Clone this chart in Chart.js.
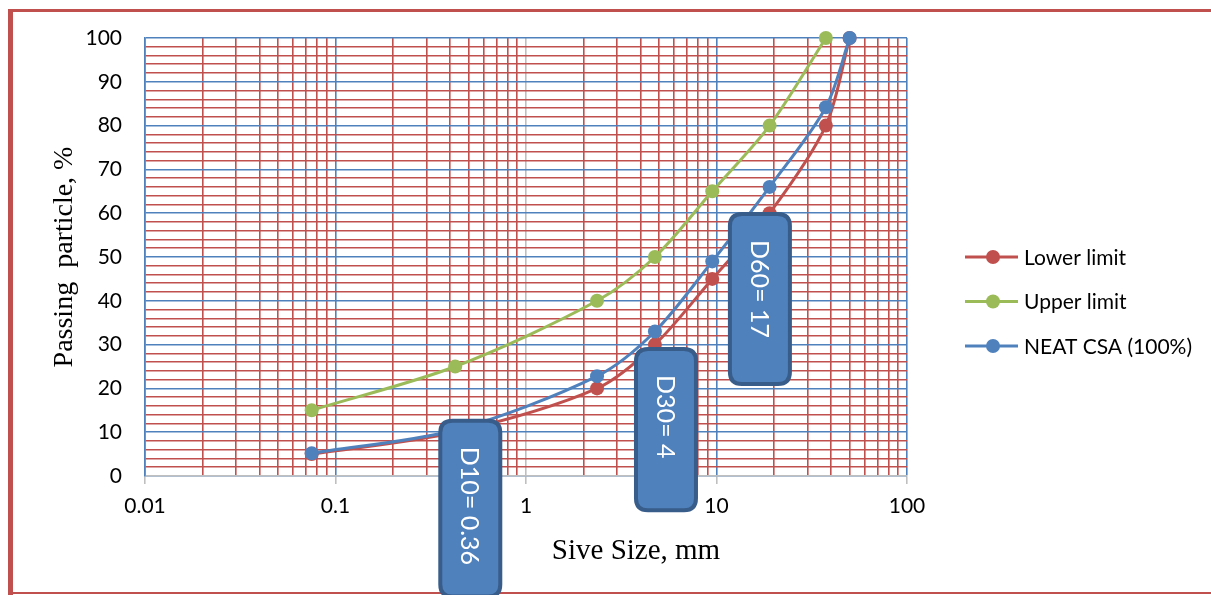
<!DOCTYPE html>
<html>
<head>
<meta charset="utf-8">
<script src="https://cdn.jsdelivr.net/npm/chart.js@4.4.1/dist/chart.umd.min.js"></script>
<style>
  html, body { margin: 0; padding: 0; background: #fff; }
  #wrap { width: 1211px; height: 595px; position: relative; }
</style>
</head>
<body>
<div id="wrap"><canvas id="grading-chart"></canvas></div>
<script>
// sieve sizes (mm) and % passing
const sieveSizes = [0.075, 0.425, 2.36, 4.75, 9.5, 19, 37.5, 50];
const lowerLimit = [5, 10, 20, 30, 45, 60, 80, 100];
const upperLimit = [15, 25, 40, 50, 65, 80, 100];
const neatCsa    = [5.2, 10.5, 22.8, 33, 49, 66, 84.2, 100];

const seriesNames = ['Lower limit', 'Upper limit', 'NEAT CSA (100%)'];
const xDecades = [0.01, 0.1, 1, 10, 100];
const yMajor = [0, 10, 20, 30, 40, 50, 60, 70, 80, 90, 100];

// D-value callouts: label, centre size (mm), top and bottom (% passing)
const dLabels = ['D10= 0.36', 'D30= 4', 'D60= 17'];
const dCenter = [0.51, 5.43, 16.9];
const dTop    = [12.6, 29, 59.8];
const dBottom = [-27.5, -7.8, 21];

const RED = '#C0504D', GREEN = '#9BBB59', BLUE = '#4F81BD', GREY = '#BFBFBF';
const FONT = 'Lato, "Open Sans", sans-serif';
const SERIF = '"Liberation Serif", "Times New Roman", serif';

const pts = (ys) => ys.map((y, i) => ({ x: sieveSizes[i], y }));

function lineSet(label, data, color, order) {
  return {
    label, data, order,
    borderColor: color, backgroundColor: color,
    borderWidth: 3, pointRadius: 7, pointHoverRadius: 7,
    pointBorderWidth: 0, tension: 0.3, clip: false
  };
}

const isDecade = v => xDecades.some(d => Math.abs(d - v) < d * 1e-6);

function roundRect(c, x, y, w, h, r) {
  c.beginPath();
  c.moveTo(x + r, y);
  c.lineTo(x + w - r, y);
  c.quadraticCurveTo(x + w, y, x + w, y + r);
  c.lineTo(x + w, y + h - r);
  c.quadraticCurveTo(x + w, y + h, x + w - r, y + h);
  c.lineTo(x + r, y + h);
  c.quadraticCurveTo(x, y + h, x, y + h - r);
  c.lineTo(x, y + r);
  c.quadraticCurveTo(x, y, x + r, y);
  c.closePath();
}

const decorations = {
  id: 'decorations',
  afterDraw(chart) {
    const c = chart.ctx;
    const { left, right, top, bottom } = chart.chartArea;
    const xs = chart.scales.x, ys = chart.scales.y;
    c.save();

    // outer frame
    c.fillStyle = RED;
    c.fillRect(8, 9, 5, 586);
    c.fillRect(8, 9, chart.width - 8, 3);
    c.fillRect(8, chart.height - 3, chart.width - 8, 2);

    // axis titles
    c.fillStyle = '#000';
    c.font = '29px ' + SERIF;
    c.textAlign = 'center';
    c.textBaseline = 'middle';
    c.fillText('Sive Size, mm', 636, 551);
    c.save();
    c.translate(65, (top + bottom) / 2);
    c.rotate(-Math.PI / 2);
    c.font = '28px ' + SERIF;
    c.fillText('Passing  particle, %', 0, 0);
    c.restore();

    // legend
    const colors = [RED, GREEN, BLUE];
    const midY = (top + bottom) / 2;
    c.font = '21px ' + FONT;
    c.textAlign = 'left';
    seriesNames.forEach((name, i) => {
      const y = midY + i * 44.5;
      c.strokeStyle = colors[i];
      c.lineWidth = 3;
      c.beginPath();
      c.moveTo(right + 58, y);
      c.lineTo(right + 111, y);
      c.stroke();
      c.fillStyle = colors[i];
      c.beginPath();
      c.arc(right + 86, y, 7, 0, Math.PI * 2);
      c.fill();
      c.fillStyle = '#000';
      c.fillText(name, right + 117, y + 1);
    });

    // D-value callouts
    dLabels.forEach((txt, i) => {
      const cx = xs.getPixelForValue(dCenter[i]);
      const y0 = ys.getPixelForValue(dTop[i]);
      const y1 = ys.getPixelForValue(dBottom[i]);
      const w = 60;
      roundRect(c, cx - w / 2, y0, w, y1 - y0, 12);
      c.fillStyle = BLUE;
      c.fill();
      c.lineWidth = 4;
      c.strokeStyle = '#385D8A';
      c.stroke();
      c.save();
      c.translate(cx, y0 + 26);
      c.rotate(Math.PI / 2);
      c.fillStyle = '#fff';
      c.font = '25px ' + FONT;
      c.textAlign = 'left';
      c.textBaseline = 'middle';
      c.fillText(txt, 0, 1);
      c.restore();
    });
    c.restore();
  }
};

new Chart(document.getElementById('grading-chart'), {
  type: 'line',
  data: {
    datasets: [
      lineSet(seriesNames[0], pts(lowerLimit), RED, 2),
      lineSet(seriesNames[1], pts(upperLimit), GREEN, 1),
      lineSet(seriesNames[2], pts(neatCsa), BLUE, 0)
    ]
  },
  options: {
    responsive: true, maintainAspectRatio: false, animation: false,
    layout: { padding: { top: 38, right: 304, bottom: 0, left: 0 } },
    plugins: { legend: { display: false }, tooltip: { enabled: false } },
    scales: {
      x: {
        type: 'logarithmic', min: 0.01, max: 100,
        afterBuildTicks(scale) {
          const ticks = [];
          xDecades.forEach((d, i) => {
            if (i === xDecades.length - 1) { ticks.push({ value: d }); return; }
            for (let m = 1; m <= 9; m++) ticks.push({ value: Number((d * m).toPrecision(3)) });
          });
          scale.ticks = ticks;
        },
        afterFit(scale) { scale.height = 119; },
        border: { color: GREY, width: 1.5 },
        grid: {
          color: ctx => ctx.tick && ctx.tick.value === 1 ? GREY : (ctx.tick && isDecade(ctx.tick.value) ? BLUE : RED),
          lineWidth: 1.6,
          tickLength: 8,
          tickColor: ctx => ctx.tick && isDecade(ctx.tick.value) ? GREY : 'rgba(0,0,0,0)'
        },
        ticks: {
          autoSkip: false, maxRotation: 0, padding: 10, color: '#000',
          font: { family: FONT, size: 21 },
          callback: v => isDecade(v) ? String(v) : ''
        }
      },
      y: {
        min: 0, max: 100,
        afterFit(scale) { scale.width = 145; },
        border: { color: BLUE, width: 1.6 },
        grid: {
          color: ctx => yMajor.includes(ctx.tick && ctx.tick.value) ? BLUE : RED,
          lineWidth: 1.6,
          drawTicks: false
        },
        ticks: {
          stepSize: 2, autoSkip: false, padding: 23, color: '#000',
          font: { family: FONT, size: 21 },
          callback: v => yMajor.includes(v) ? String(v) : ''
        }
      }
    }
  },
  plugins: [decorations]
});
</script>
</body>
</html>
